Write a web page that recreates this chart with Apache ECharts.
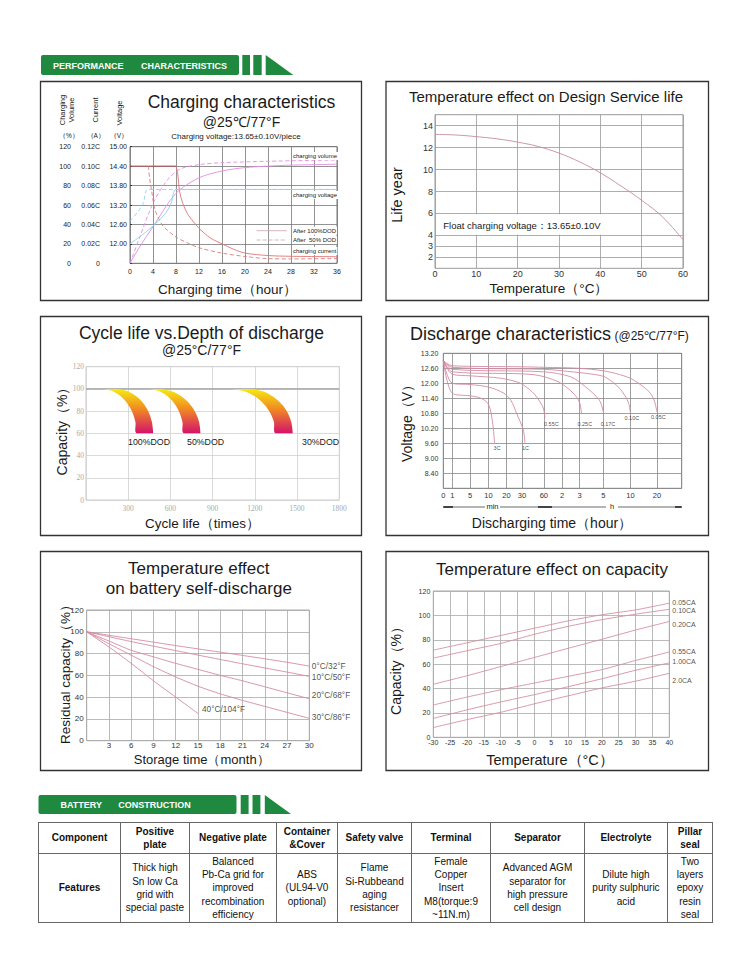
<!DOCTYPE html>
<html>
<head>
<meta charset="utf-8">
<script src="https://cdn.jsdelivr.net/npm/echarts@6/dist/echarts.min.js"></script>
<style>
html,body{margin:0;padding:0;background:#fff;}
#chart{position:absolute;left:0;top:0;width:750px;height:954px;}
#tbl{position:absolute;left:38px;top:822px;width:674px;border-collapse:collapse;table-layout:fixed;
  font-family:"Liberation Sans",Arial,sans-serif;font-size:10px;color:#111;}
#tbl td{border:1px solid #666;text-align:center;vertical-align:middle;padding:0;line-height:13.3px;overflow:hidden;}
#tbl tr.h td{height:30px;font-weight:bold;}
#tbl tr.b td{height:68px;}
#tbl tr.b td:first-child{font-weight:bold;}
</style>
</head>
<body>
<div id="chart"></div>
<table id="tbl"></table>
<script>
// ---------------- DATA ----------------
// Panel 1: charging characteristics (hours)
const chgVolumeAfter100 = [[0,0],[1.7,17],[4,37.7],[8,72],[12,88],[16,95],[20,98.5],[24,100],[28,101],[36,102]];
const chgVolumeAfter50  = [[0,0],[1.7,27],[4,61.7],[6.4,85],[8.7,97],[12,101.5],[16,103.5],[24,105],[36,106.3]];
const chgCurrentConst   = [[0,0.1],[8,0.1]];
const chgCurrentAfter100 = [[8,0.1],[8.3,0.092],[8.6,0.075],[9.1,0.063],[10,0.051],[11,0.043],[12,0.036],[14,0.026],[16,0.02],[18,0.0145],[20,0.0105],[24,0.008],[28,0.0072],[36,0.0068]];
const chgCurrentAfter50  = [[3.2,0.1],[3.4,0.088],[3.75,0.075],[4.3,0.056],[5,0.046],[5.8,0.038],[8,0.027],[10,0.021],[12,0.016],[16,0.0105],[20,0.007],[24,0.0048],[28,0.0045],[36,0.005]];
const chgVoltageAfter100 = [[0,12.0],[1.7,12.22],[4,12.55],[6.2,12.95],[7.2,13.27],[8,13.68],[36,13.68]];
const chgVoltageAfter50  = [[0,12.7],[1.4,13.0],[2.3,13.25],[3.15,13.68],[36,13.68]];

// Panel 2: temperature effect on design service life
const lifeTemp  = [0,5,10,15,20,25,30,35,40,45,50,55,60];
const lifeYears = [13.2,13.15,13.0,12.8,12.5,12.1,11.5,10.7,9.7,8.5,7.2,5.7,3.6];
const lifeTicks = [2,3,4,6,8,10,12,14];

// Panel 3: cycle life vs depth of discharge (cycles, capacity %)
const capLevels   = [100,98.6,94.6,88.3,80,70.4,60];
const dod100Outer = [213,281,345,400,442,468,477];
const dod100Inner = [111,175,235,286,326,351,359];
const dod50Outer  = [513,591,663,725,773,803,813];
const dod50Inner  = [442,507,568,620,660,685,694];
const dod30Outer  = [1153,1235,1311,1376,1427,1458,1469];
const dod30Inner  = [1020,1104,1183,1250,1302,1335,1346];

// Panel 4: discharge characteristics (minutes, volts)
const dischargeTickMinutes = [0,1,5,10,20,30,60,120,180,300,600,1200,1800];
const dischargeTickLabels  = ['0','1','5','10','20','30','60','2','3','5','10','20',''];
const dis005 = [[0,12.9],[1,12.70],[30,12.66],[60,12.64],[180,12.60],[300,12.50],[480,12.35],[600,12.2],[720,12.07],[900,11.85],[1050,11.6],[1140,11.3],[1200,10.85]];
const dis010 = [[0,12.9],[1,12.64],[60,12.56],[120,12.5],[210,12.4],[300,12.28],[400,12.06],[480,11.8],[540,11.5],[580,11.2],[600,10.82]];
const dis017 = [[0,12.9],[1,12.56],[60,12.46],[150,12.26],[210,11.86],[280,11.33],[304,10.8]];
const dis025 = [[0,12.9],[1,12.46],[45,12.35],[108,12.06],[159,11.6],[180,11.24],[190,10.8]];
const dis055 = [[0,12.9],[1,12.36],[5,12.3],[17,12.2],[29,12.0],[44,11.66],[50,11.46],[58,11.1],[60,10.93],[64,10.62]];
const dis1C  = [[0,12.9],[1,12.0],[5,11.95],[10,11.85],[18.6,11.6],[23,11.3],[26.5,10.8],[31.8,10.13],[34,9.62]];
const dis3C  = [[0,12.9],[1,11.6],[5,11.5],[8,11.4],[10,11.16],[12.2,10.46],[13.4,9.6]];

// Panel 5: self-discharge (months, residual %)
const storageMonths = [0,3,6,9,12,15,18,21,24,27,30];
const selfDis0C  = [100,96.8,93.6,90.5,87.3,84.3,81.3,78.3,75.2,72,68.5];
const selfDis10C = [100,95.5,91,86.8,82.7,78.6,74.6,70.6,66.8,63,59];
const selfDis20C = [100,91.5,83,77,71,65.5,60,55,49.5,44,38.5];
const selfDis30C = [100,89,78.5,68,58.5,50,43,37,31.5,26,20.5];
const selfDis40C = [100,86,71,55,40,25];

// Panel 6: temperature effect on capacity (°C, %)
const capTemps = [-30,-20,-10,0,10,20,30,40];
const cap005 = [71.5,77.5,83.5,89.5,95.5,100.5,104.5,110];
const cap010 = [65,71,77,84.5,91,96.5,101,105];
const cap020 = [43.5,50.5,58,65.5,73,80.4,88,95];
const cap055 = [26.5,33,39,44.5,50,55.5,63,70];
const cap100 = [15.5,22.5,29,35,41.5,48,55,61];
const cap200 = [8,14.5,20.5,27.5,34,40.5,46,52.5];

// Table
const tableHead = ['Component','Positive\nplate','Negative plate','Container\n&Cover','Safety valve','Terminal','Separator','Electrolyte','Pillar\nseal'];
const tableRow  = ['Features','Thick high\nSn low Ca\ngrid with\nspecial paste','Balanced\nPb-Ca grid for\nimproved\nrecombination\nefficiency','ABS\n(UL94-V0\noptional)','Flame\nSi-Rubbeand\naging\nresistancer','Female\nCopper\nInsert\nM8(torque:9\n~11N.m)','Advanced AGM\nseparator for\nhigh pressure\ncell design','Dilute high\npurity sulphuric\nacid','Two\nlayers\nepoxy\nresin\nseal'];

// ---------------- LAYOUT ----------------
const FONT = '"Liberation Sans", Arial, sans-serif';
const tableColWidths = [82,69,87,61,74,79,94,83,45];
const dischargeTickPos = [0,9,26.7,45.2,63.2,78.7,100.5,118.7,136.2,160,187.2,213.7,238.4];

function dischargePos(min){
  for (let i=0;i<dischargeTickMinutes.length-1;i++){
    const a=dischargeTickMinutes[i], b=dischargeTickMinutes[i+1];
    if (min<=b) return dischargeTickPos[i]+(min-a)/(b-a)*(dischargeTickPos[i+1]-dischargeTickPos[i]);
  }
  return dischargeTickPos[dischargeTickPos.length-1];
}

// build table
(function(){
  const tbl=document.getElementById('tbl');
  const cg=document.createElement('colgroup');
  tableColWidths.forEach(w=>{const c=document.createElement('col');c.style.width=w+'px';cg.appendChild(c);});
  tbl.appendChild(cg);
  [[tableHead,'h'],[tableRow,'b']].forEach(([row,cls])=>{
    const tr=document.createElement('tr');tr.className=cls;
    row.forEach(t=>{
      const td=document.createElement('td');
      t.split('\n').forEach((ln,i)=>{ if(i) td.appendChild(document.createElement('br')); td.appendChild(document.createTextNode(ln)); });
      tr.appendChild(td);
    });
    tbl.appendChild(tr);
  });
})();

function T(x,y,text,size,o){
  o=o||{};
  const st={text:text,fontSize:size,fontFamily:o.family||FONT,fontWeight:o.weight||'normal',
    fill:o.color||'#1a1a1a',align:o.align||'center',verticalAlign:o.va||'middle'};
  if (o.lh) st.lineHeight=o.lh;
  if (o.bg){st.backgroundColor=o.bg;st.padding=o.pad||[1,1];}
  return {type:'text',x:x,y:y,rotation:o.rot||0,silent:true,z:100,style:st};
}
function R(x,y,w,h,o){
  o=o||{};
  return {type:'rect',silent:true,z:o.z||100,shape:{x:x,y:y,width:w,height:h,r:o.r||0},
    style:{fill:o.fill||'none',stroke:o.stroke||null,lineWidth:o.lw||1}};
}
function L(x1,y1,x2,y2,o){
  o=o||{};
  return {type:'line',silent:true,z:100,shape:{x1:x1,y1:y1,x2:x2,y2:y2},
    style:{stroke:o.color||'#444',lineWidth:o.lw||0.8,lineDash:o.dash||null}};
}
const GREEN='#1f8a3f';
const ROT=Math.PI/2;

const graphic=[
  // header 1
  R(41,55,198,20,{fill:GREEN,r:2}), R(242.3,55,7.7,20,{fill:GREEN}), R(253.3,55,8.4,20,{fill:GREEN}),
  {type:'polygon',silent:true,z:100,shape:{points:[[265.7,55],[265.7,75],[293.3,75]]},style:{fill:GREEN}},
  T(53,65.5,'PERFORMANCE',9,{weight:'bold',color:'#fff',align:'left'}),
  T(227,65.5,'CHARACTERISTICS',9,{weight:'bold',color:'#fff',align:'right'}),
  // header 2
  R(38.5,795,198,19,{fill:GREEN,r:2}), R(240.7,795,7.9,19,{fill:GREEN}), R(252.5,795,7.9,19,{fill:GREEN}),
  {type:'polygon',silent:true,z:100,shape:{points:[[264.8,795],[264.8,814],[291,814]]},style:{fill:GREEN}},
  T(60.5,804.5,'BATTERY',9,{weight:'bold',color:'#fff',align:'left'}),
  T(118.3,804.5,'CONSTRUCTION',9,{weight:'bold',color:'#fff',align:'left'}),
  // panel borders
  R(40.5,81.5,321,219,{stroke:'#333',lw:1.3}),
  R(386,81.5,322.5,219,{stroke:'#333',lw:1.3}),
  R(40.5,316.5,321,219,{stroke:'#333',lw:1.3}),
  R(386,316.5,322.5,219,{stroke:'#333',lw:1.3}),
  R(40.5,551.5,321,219,{stroke:'#333',lw:1.3}),
  R(386,551.5,322.5,219,{stroke:'#333',lw:1.3}),

  // Panel 1 texts
  T(241.5,101.7,'Charging characteristics',17.5),
  T(241.5,121.7,'@25℃/77°F',14),
  T(236,136.7,'Charging voltage:13.65±0.10V/piece',8),
  T(67,110,'Charging\nVolume',7.5,{rot:ROT,lh:9.5}),
  T(95,110,'Current',7.5,{rot:ROT}),
  T(119,113,'Voltage',7.5,{rot:ROT}),
  T(69,135,'（%）',6.5), T(95.7,135,'（A）',6.5), T(119,135,'（V）',6.5),
  T(227.5,289,'Charging time（hour）',13.5),
  T(292,156,'charging volume',6,{align:'left',bg:'#fff'}),
  T(292,195,'charging voltage',6,{align:'left',bg:'#fff'}),
  T(292,251,'charging current',6,{align:'left',bg:'#fff'}),
  L(256.7,230.7,286.7,230.7,{color:'#c9a3ad',lw:0.8}),
  L(256.7,240,286.7,240,{color:'#c9a3ad',lw:0.8,dash:[4,2]}),
  T(292,230.7,'After 100%DOD',6,{align:'left',bg:'#fff'}),
  T(292,240,'After  50% DOD',6,{align:'left',bg:'#fff'}),

  // Panel 2 texts
  T(546,96.7,'Temperature effect on Design Service life',15),
  T(397,195,'Life year',14.5,{rot:ROT}),
  T(549,288.3,'Temperature（°C）',13.5),
  R(436,214.2,172,20.5,{fill:'#fff',z:50}),
  T(443.3,225.2,'Float charging voltage：13.65±0.10V',9.5,{align:'left'}),

  // Panel 3 texts
  T(201.5,333.3,'Cycle life vs.Depth of discharge',17.5),
  T(201.5,350,'@25°C/77°F',14),
  T(62,428,'Capacity（%）',14,{rot:ROT}),
  T(202.5,523.3,'Cycle life（times）',13.5),
  T(128,442,'100%DOD',8.8,{align:'left'}),
  T(187,442,'50%DOD',8.8,{align:'left'}),
  T(302,442,'30%DOD',8.8,{align:'left'}),

  // Panel 4 texts
  T(410,342.5,'Discharge characteristics',18,{align:'left',va:'bottom'}),
  T(614.5,342,'(@25℃/77°F)',12,{align:'left',va:'bottom'}),
  T(407,420,'Voltage（V）',14,{rot:ROT}),
  T(552,523.3,'Discharging time（hour）',14),
  L(443.3,507,485,507), L(500,507,544,507), L(443.3,507,453,507,{lw:2}), L(538,507,552,507,{lw:2}),
  L(544,507,606,507), L(618,507,681.7,507), L(675,507,681.7,507,{lw:2}),
  T(492.5,506.5,'min',7.5), T(612,506.5,'h',7.5),

  // Panel 5 texts
  T(198.8,568.3,'Temperature effect',17),
  T(198.8,588.3,'on battery self-discharge',17),
  T(65,671,'Residual capacity（%）',13.5,{rot:ROT}),
  T(201.7,759.3,'Storage time（month）',13),

  // Panel 6 texts
  T(552,569,'Temperature effect on capacity',17),
  T(396,667.5,'Capacity（%）',14,{rot:ROT}),
  T(550,760,'Temperature（°C）',14.5)
];

// ---------------- OPTION ----------------
function gridDef(left,top,width,height,border){
  return {left:left,top:top,width:width,height:height,show:true,borderColor:border,borderWidth:1,
    backgroundColor:'transparent',containLabel:false,outerBoundsMode:'none'};
}
const grids=[
  gridDef(130,146.7,207,116.6,'#777'),
  gridDef(435,114.7,248,153.6,'#999'),
  gridDef(86,366.7,253.3,133.3,'#ccc'),
  gridDef(443.3,353.3,238.4,135,'#888'),
  gridDef(86.7,610,222.6,130.7,'#aaa'),
  gridDef(433.3,591,236,146.3,'#aaa')
];
function valAxis(grid,min,max,interval,o){
  o=o||{};
  const ax={type:'value',gridIndex:grid,min:min,max:max,interval:interval,
    axisLine:{show:false},axisTick:{show:false},
    splitLine:{show:o.split!==false,lineStyle:{color:o.gridColor||'#999',width:o.gridWidth||0.8}},
    axisLabel:{show:o.labels!==false,fontSize:o.fs||7,color:o.color||'#222',fontFamily:o.family||FONT,margin:o.margin||3,
      formatter:o.fmt||null},
    splitArea:{show:false}};
  if (o.offset) ax.offset=o.offset;
  if (o.pos) ax.position=o.pos;
  return ax;
}
const xAxes=[
  valAxis(0,0,36,4,{gridColor:'#777',fs:7,margin:5,pos:'bottom'}),
  valAxis(1,0,60,10,{gridColor:'#999',fs:9,color:'#333',margin:1,pos:'bottom'}),
  valAxis(2,0,1800,300,{gridColor:'#d0d0d0',fs:7.5,color:'#aaa',family:'"Liberation Serif", serif',margin:4,pos:'bottom',fmt:v=>v===0?'':String(v)}),
  (function(){const a=valAxis(3,0,dischargeTickPos[dischargeTickPos.length-1],null,{gridColor:'#888',fs:7.5,color:'#333',margin:3,pos:'bottom',
      fmt:v=>{const i=dischargeTickPos.findIndex(p=>Math.abs(p-v)<0.01);return i>=0?dischargeTickLabels[i]:'';}});
    delete a.interval;
    a.axisLabel.customValues=dischargeTickPos.slice(0,12);
    a.axisTick={show:false,customValues:dischargeTickPos};
    return a;})(),
  valAxis(4,0,30,3,{gridColor:'#aaa',fs:8,color:'#333',margin:0.5,pos:'bottom',fmt:v=>v===0?'':String(v)}),
  valAxis(5,-30,40,5,{gridColor:'#aaa',fs:7,color:'#333',margin:2,pos:'bottom'})
];
const yAxes=[
  (function(){const a=valAxis(0,0,120,20,{gridColor:'#777',fs:7,margin:3,offset:56,pos:'left'});
     a.axisTick={show:true,inside:true,length:2,lineStyle:{color:'#333'}};return a;})(),
  valAxis(0,0,0.12,0.02,{split:false,fs:7,margin:2,offset:28,pos:'left',fmt:v=>v===0?'0':v.toFixed(2)+'C'}),
  valAxis(0,11.4,15,0.6,{split:false,fs:7,margin:3,pos:'left',fmt:v=>v<11.9?'':v.toFixed(2)}),
  (function(){const a=valAxis(1,1,15,1,{gridColor:'#999',fs:9,color:'#333',margin:2,pos:'left',fmt:v=>String(v)});
     a.axisLabel.customValues=lifeTicks; a.axisTick={show:false,customValues:lifeTicks}; return a;})(),
  valAxis(2,0,120,20,{gridColor:'#d0d0d0',fs:7.5,color:'#aaa',family:'"Liberation Serif", serif',margin:2,pos:'left'}),
  valAxis(3,7.8,13.2,0.6,{gridColor:'#888',fs:7,color:'#333',margin:5,pos:'left',fmt:v=>v<8?'':v.toFixed(2)}),
  valAxis(4,0,120,20,{gridColor:'#aaa',fs:8,color:'#333',margin:3,pos:'left'}),
  valAxis(5,0,120,20,{gridColor:'#aaa',fs:7,color:'#333',margin:3,pos:'left'})
];

function line(xi,yi,data,color,o){
  o=o||{};
  return {type:'line',xAxisIndex:xi,yAxisIndex:yi,data:data,showSymbol:false,symbol:'none',
    smooth:o.smooth===undefined?0.3:o.smooth,silent:true,animation:false,z:o.z||3,
    lineStyle:{color:color,width:o.w||0.9,type:o.dash||'solid'}};
}
function labels(xi,yi,items,fs,color){
  return {type:'scatter',xAxisIndex:xi,yAxisIndex:yi,symbolSize:0.01,silent:true,animation:false,z:10,
    itemStyle:{color:'rgba(0,0,0,0)'},
    data:items.map(it=>({value:[it.x,it.y],label:{show:true,formatter:it.text,position:[it.dx,it.dy],
      align:'left',verticalAlign:'middle',fontSize:fs,color:color||'#222',fontFamily:it.family||FONT}}))};
}
function band(outer,inner){
  const pts=outer.map((x,i)=>[x,capLevels[i]]).concat(inner.map((x,i)=>[x,capLevels[i]]).reverse());
  return {type:'custom',xAxisIndex:2,yAxisIndex:4,data:pts,encode:{x:0,y:1},silent:true,animation:false,z:4,
    renderItem:function(params,api){
      if (params.dataIndex!==0) return null;
      const px=pts.map(p=>api.coord(p));
      let x0=Infinity,y0=Infinity,x1=-Infinity,y1=-Infinity;
      px.forEach(p=>{x0=Math.min(x0,p[0]);y0=Math.min(y0,p[1]);x1=Math.max(x1,p[0]);y1=Math.max(y1,p[1]);});
      return {type:'polygon',shape:{points:px,smooth:0.35,smoothConstraint:[[x0,y0],[x1,y1]]},
        style:{fill:new echarts.graphic.LinearGradient(0,0,0,1,[
          {offset:0,color:'#f6ea10'},{offset:0.45,color:'#f18a22'},{offset:1,color:'#d3126c'}]),stroke:null}};
    }};
}
const disData=arr=>arr.map(p=>[dischargePos(p[0]),p[1]]);
const last=arr=>arr[arr.length-1];
const DIS='#d58aa4', SD='#d48aa0', CP='#d590a2';

const series=[
  // Panel 1
  line(0,0,chgVolumeAfter100,'#e58ae3'),
  line(0,0,chgVolumeAfter50,'#e58ae3',{dash:[4,2.5]}),
  line(0,1,chgCurrentConst,'#b44848',{smooth:false,w:1}),
  line(0,1,chgCurrentAfter100,'#e07474'),
  line(0,1,chgCurrentAfter50,'#e07a7a',{dash:[4,2.5]}),
  line(0,2,chgVoltageAfter100,'#8cd2ee',{smooth:0.25}),
  line(0,2,chgVoltageAfter50,'#8cd2ee',{smooth:0.25,dash:[4,2.5]}),
  // Panel 2
  line(1,3,lifeTemp.map((t,i)=>[t,lifeYears[i]]),'#c68c9c',{smooth:0.4}),
  // Panel 3
  line(2,4,[[0,100],[1800,100]],'#9a9a9a',{smooth:false,w:1.2,z:2}),
  band(dod100Outer,dod100Inner), band(dod50Outer,dod50Inner), band(dod30Outer,dod30Inner),
  // Panel 4
  line(3,5,disData(dis005),DIS), line(3,5,disData(dis010),DIS), line(3,5,disData(dis017),DIS),
  line(3,5,disData(dis025),DIS), line(3,5,disData(dis055),DIS), line(3,5,disData(dis1C),DIS),
  line(3,5,disData(dis3C),DIS),
  labels(3,5,[
    {x:dischargePos(last(dis055)[0]),y:last(dis055)[1],text:'0.55C',dx:-1,dy:6},
    {x:dischargePos(last(dis025)[0]),y:last(dis025)[1],text:'0.25C',dx:-4,dy:11},
    {x:dischargePos(last(dis017)[0]),y:last(dis017)[1],text:'0.17C',dx:-3,dy:11},
    {x:dischargePos(last(dis010)[0]),y:last(dis010)[1],text:'0.10C',dx:-6,dy:5},
    {x:dischargePos(last(dis005)[0]),y:last(dis005)[1],text:'0.05C',dx:-6,dy:5},
    {x:dischargePos(last(dis3C)[0]),y:last(dis3C)[1],text:'3C',dx:-1,dy:5},
    {x:dischargePos(last(dis1C)[0]),y:last(dis1C)[1],text:'1C',dx:-3,dy:5}
  ],5.5,'#222'),
  // Panel 5
  line(4,6,storageMonths.map((m,i)=>[m,selfDis0C[i]]),SD,{smooth:0.2}),
  line(4,6,storageMonths.map((m,i)=>[m,selfDis10C[i]]),SD,{smooth:0.2}),
  line(4,6,storageMonths.map((m,i)=>[m,selfDis20C[i]]),SD,{smooth:0.2}),
  line(4,6,storageMonths.map((m,i)=>[m,selfDis30C[i]]),SD,{smooth:0.2}),
  line(4,6,selfDis40C.map((v,i)=>[storageMonths[i],v]),SD,{smooth:0.2}),
  labels(4,6,[
    {x:30,y:last(selfDis0C),text:'0°C/32°F',dx:2.5,dy:0},
    {x:30,y:last(selfDis10C),text:'10°C/50°F',dx:2.5,dy:0.5},
    {x:30,y:last(selfDis20C),text:'20°C/68°F',dx:2.5,dy:-4},
    {x:30,y:last(selfDis30C),text:'30°C/86°F',dx:2.5,dy:-1},
    {x:storageMonths[selfDis40C.length-1],y:last(selfDis40C),text:'40°C/104°F',dx:4,dy:-4.5}
  ],8.3,'#222'),
  // Panel 6
  line(5,7,capTemps.map((t,i)=>[t,cap005[i]]),CP,{smooth:0.2}),
  line(5,7,capTemps.map((t,i)=>[t,cap010[i]]),CP,{smooth:0.2}),
  line(5,7,capTemps.map((t,i)=>[t,cap020[i]]),CP,{smooth:0.2}),
  line(5,7,capTemps.map((t,i)=>[t,cap055[i]]),CP,{smooth:0.2}),
  line(5,7,capTemps.map((t,i)=>[t,cap100[i]]),CP,{smooth:0.2}),
  line(5,7,capTemps.map((t,i)=>[t,cap200[i]]),CP,{smooth:0.2}),
  labels(5,7,[
    {x:40,y:last(cap005),text:'0.05CA',dx:3,dy:-1},
    {x:40,y:last(cap010),text:'0.10CA',dx:3,dy:1.5},
    {x:40,y:last(cap020),text:'0.20CA',dx:3,dy:3.4},
    {x:40,y:last(cap055),text:'0.55CA',dx:3,dy:0},
    {x:40,y:last(cap100),text:'1.00CA',dx:3,dy:-1.7},
    {x:40,y:last(cap200),text:'2.0CA',dx:3,dy:7.7}
  ],7,'#222')
];

const chart=echarts.init(document.getElementById('chart'),null,{renderer:'svg',width:750,height:954});
chart.setOption({
  animation:false,
  backgroundColor:'#fff',
  textStyle:{fontFamily:FONT},
  grid:grids, xAxis:xAxes, yAxis:yAxes, series:series, graphic:graphic
});
</script>
</body>
</html>
